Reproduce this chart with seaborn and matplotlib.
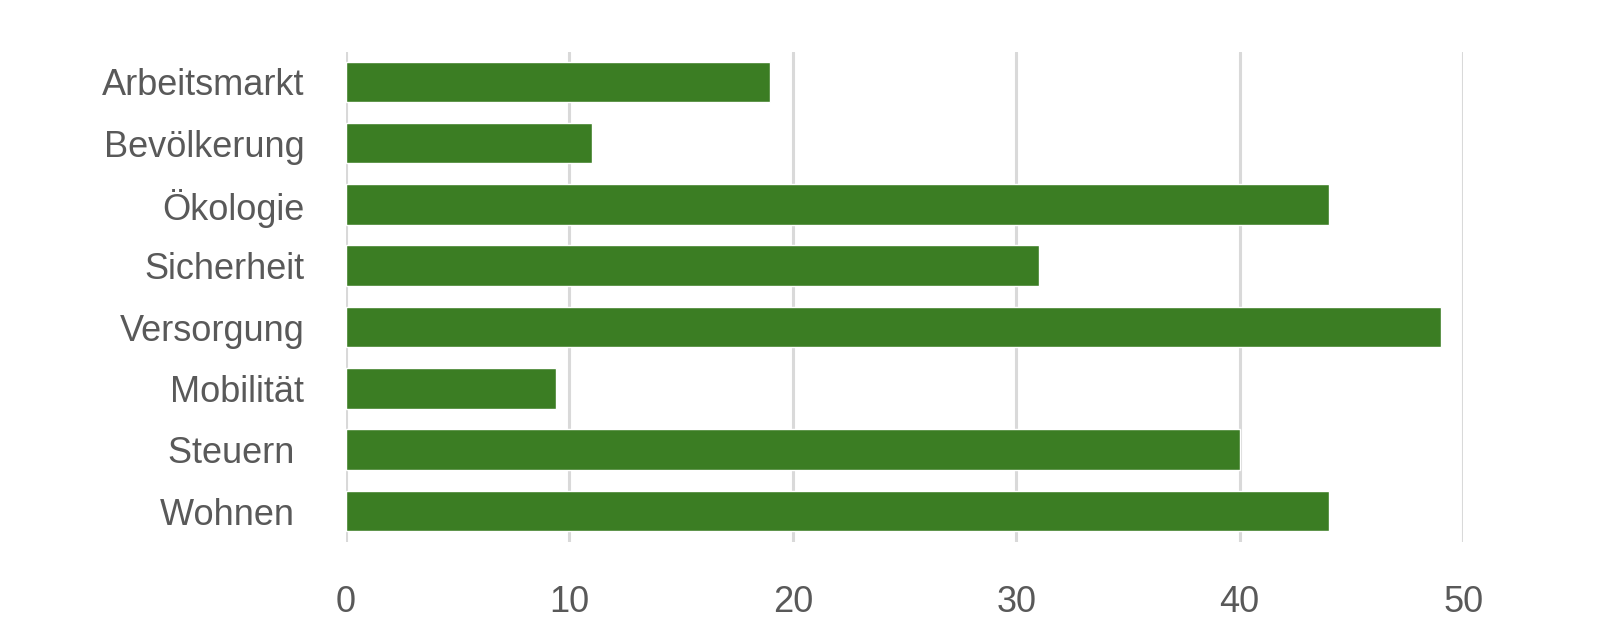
import pandas as pd
import matplotlib.pyplot as plt
import seaborn as sns

categories = ['Arbeitsmarkt', 'Bevölkerung', 'Ökologie', 'Sicherheit',
              'Versorgung', 'Mobilität', 'Steuern ', 'Wohnen ']
values = [19, 11, 44, 31, 49, 9.4, 40, 44]
x_ticks = [0, 10, 20, 30, 40, 50]

bar_color = '#3b7d23'
text_color = '#595959'
grid_color = '#d9d9d9'

sns.set_theme(style='white')
plt.rcParams['font.family'] = ['Liberation Sans', 'DejaVu Sans']

df = pd.DataFrame({'Thema': categories, 'Wert': values})

fig = plt.figure(figsize=(16.06, 6.4), dpi=100)
ax = fig.add_axes([0.2154, 0.1536, 0.6956, 0.7656])

sns.barplot(data=df, y='Thema', x='Wert', orient='h', color=bar_color,
            width=0.66, saturation=1, ax=ax, zorder=3)

ax.set_xlim(0, 50)
ax.set_ylim(7.5, -0.49)
ax.set_xticks(x_ticks)
ax.set_xticklabels([str(t) for t in x_ticks])
ax.set_xlabel('')
ax.set_ylabel('')

ax.grid(axis='x', color=grid_color, linewidth=2.2, zorder=0)
ax.grid(axis='y', visible=False)
for s in ax.spines.values():
    s.set_visible(False)

ax.tick_params(axis='x', length=0, pad=31, labelsize=26, labelcolor=text_color)
ax.tick_params(axis='y', length=0, pad=30, labelsize=26, labelcolor=text_color)

fig.savefig('out.png', dpi=100)
